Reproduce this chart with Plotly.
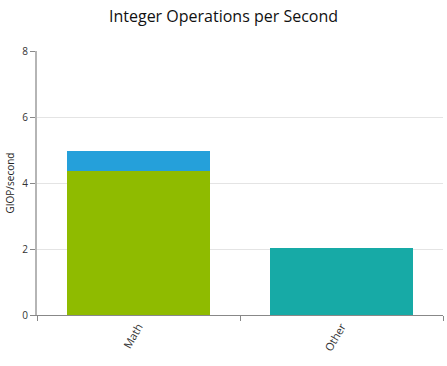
import plotly.graph_objects as go

categories = ["Math", "Other"]
series_green = [4.35, None]
series_blue = [0.63, None]
series_teal = [None, 2.03]
y_ticks = [0, 2, 4, 6, 8]

fig = go.Figure()
fig.add_trace(go.Bar(x=categories, y=series_green, marker=dict(color="#8fbb00", line=dict(width=0)), width=0.7))
fig.add_trace(go.Bar(x=categories, y=series_blue, marker=dict(color="#25a0da", line=dict(width=0)), width=0.7))
fig.add_trace(go.Bar(x=categories, y=series_teal, marker=dict(color="#17aaa6", line=dict(width=0)), width=0.7))

fig.update_layout(
    barmode="stack",
    width=447, height=366,
    margin=dict(l=37, r=4, t=51, b=51),
    paper_bgcolor="white", plot_bgcolor="white",
    showlegend=False,
    font=dict(family="Open Sans, Noto Sans, sans-serif", color="#333"),
    title=dict(text="Integer Operations per Second", x=0.5, xanchor="center", y=0.956, yanchor="middle",
               font=dict(size=16, color="#111")),
)
fig.update_yaxes(range=[0, 8], tickvals=y_ticks, showgrid=True, gridcolor="#e4e4e4", gridwidth=1,
                 showline=True, linecolor="#b5b5b5", linewidth=2, ticks="outside", ticklen=5, tickcolor="#888",
                 tickfont=dict(size=10, color="#333"), zeroline=False, automargin=False,
                 title=dict(text="GIOP/second", font=dict(size=10, color="#222"), standoff=6))
fig.update_xaxes(showline=True, linecolor="#888", linewidth=1, ticks="outside", ticklen=5, tickcolor="#888",
                 tickson="boundaries", tickangle=-60, tickfont=dict(size=11, color="#333"), showgrid=False,
                 automargin=False)

fig.write_html("out.html", config={"displayModeBar": False},
               post_script="document.body.style.margin='0';")
